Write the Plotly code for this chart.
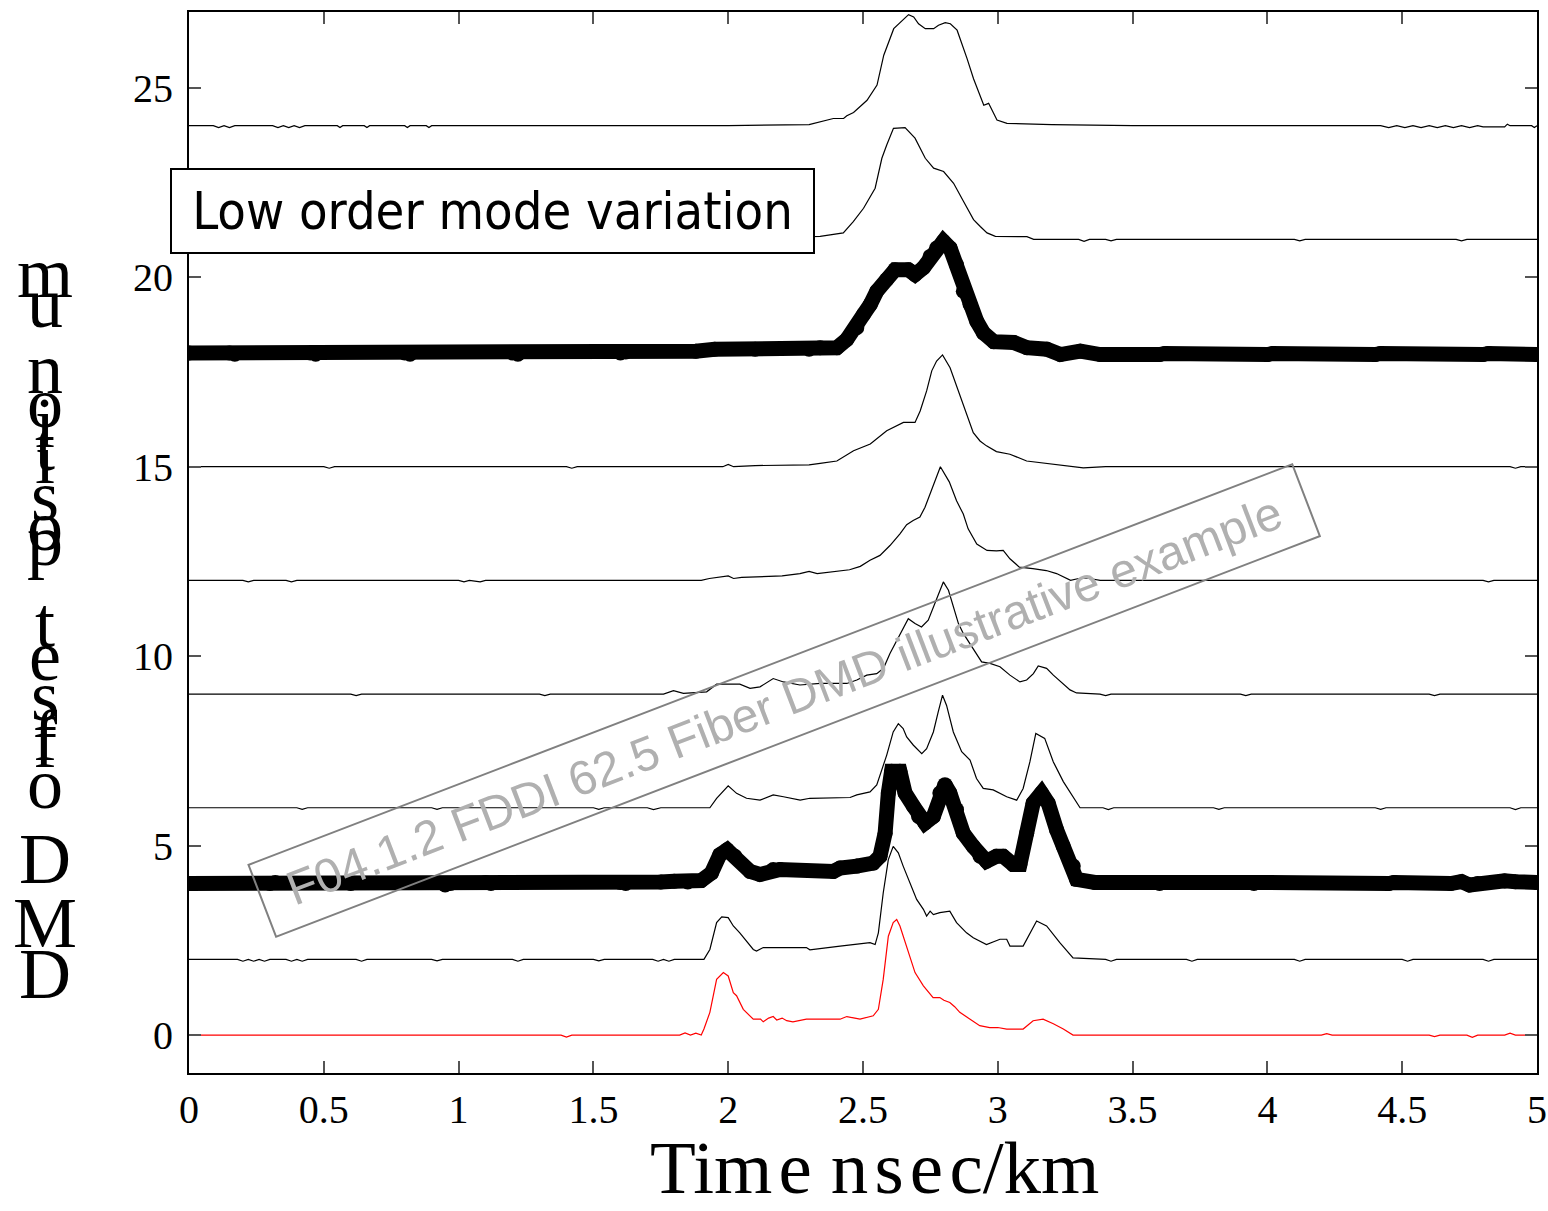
import plotly.graph_objects as go

# ---------------- data ----------------
red_x = [0, 1.38, 1.40, 1.42, 1.82, 1.84, 1.86, 1.88, 1.90, 1.91, 1.932, 1.957, 1.982, 2.0, 2.019, 2.031, 2.056, 2.093, 2.12, 2.13,
         2.15, 2.167, 2.18, 2.2, 2.217, 2.24, 2.29, 2.415, 2.44, 2.489, 2.538, 2.557, 2.575, 2.594, 2.612, 2.625, 2.637, 2.662, 2.693, 2.724,
         2.749, 2.76, 2.785, 2.80, 2.822, 2.84, 2.859, 2.87, 2.897, 2.933, 2.97, 3.0, 3.033, 3.094, 3.131, 3.168, 3.206, 3.243, 3.279, 4.20,
         4.22, 4.24, 4.60, 4.62, 4.64, 4.74, 4.76, 4.78, 4.88, 4.90, 4.92, 5.0]
red_y = [0, 0, -0.05, 0, 0, 0.06, 0, 0.05, 0, 0.16, 0.60, 1.47, 1.65, 1.56, 1.12, 1.04, 0.68, 0.42, 0.42, 0.35,
         0.45, 0.49, 0.40, 0.45, 0.38, 0.35, 0.42, 0.42, 0.49, 0.42, 0.51, 0.68, 1.47, 2.61, 2.97, 3.05, 2.88, 2.35, 1.65, 1.30,
         1.10, 0.99, 0.99, 0.92, 0.86, 0.75, 0.60, 0.55, 0.42, 0.25, 0.20, 0.20, 0.16, 0.16, 0.38, 0.42, 0.30, 0.16, 0.0, 0,
         0.04, 0, 0, -0.04, 0, 0, -0.06, 0, 0, 0.05, 0, 0]

s2_x = [0, 0.18, 0.20, 0.22, 0.24, 0.26, 0.28, 0.30, 0.36, 0.38, 0.40, 0.42, 0.44, 0.62, 0.64, 0.66, 0.90, 0.92, 0.94, 1.20,
        1.22, 1.24, 1.50, 1.52, 1.54, 1.72, 1.74, 1.76, 1.78, 1.80, 1.91, 1.932, 1.957, 1.976, 2.0, 2.019, 2.043, 2.068, 2.093, 2.105,
        2.13, 2.29, 2.303, 2.415, 2.526, 2.545, 2.557, 2.575, 2.594, 2.612, 2.631, 2.649, 2.674, 2.699, 2.724, 2.736, 2.749, 2.761, 2.785, 2.822,
        2.847, 2.884, 2.909, 2.958, 3.008, 3.033, 3.045, 3.094, 3.144, 3.181, 3.23, 3.279, 3.40, 3.42, 3.44, 3.70, 3.72, 3.74, 4.10, 4.12,
        4.14, 4.50, 4.52, 4.54, 4.80, 4.82, 4.84, 5.0]
s2_y = [2, 2, 1.95, 2, 1.95, 2, 1.95, 2, 2, 1.95, 2, 1.95, 2, 2, 1.95, 2, 2, 1.96, 2, 2,
        1.95, 2, 2, 1.96, 2, 2, 1.95, 2, 1.95, 2, 2.0, 2.26, 2.97, 3.12, 3.10, 2.88, 2.70, 2.48, 2.26, 2.22,
        2.31, 2.31, 2.25, 2.35, 2.44, 2.39, 2.70, 3.75, 4.63, 4.98, 4.81, 4.46, 4.02, 3.58, 3.32, 3.14, 3.27, 3.18, 3.23, 3.27,
        2.97, 2.70, 2.57, 2.39, 2.53, 2.53, 2.35, 2.35, 3.01, 2.88, 2.44, 2.04, 2, 1.95, 2, 2, 1.95, 2, 2, 1.95,
        2, 2, 1.95, 2, 2, 1.95, 2, 2]

s4_x = [0, 0.30, 0.32, 0.60, 0.95, 0.97, 1.10, 1.12, 1.60, 1.62, 1.75, 1.80, 1.85, 1.90, 1.938, 1.969, 1.996, 2.025, 2.081, 2.118,
        2.167, 2.192, 2.39, 2.415, 2.477, 2.538, 2.563, 2.582, 2.594, 2.606, 2.637, 2.656, 2.687, 2.706, 2.730, 2.761, 2.785, 2.804, 2.822, 2.847,
        2.872, 2.909, 2.934, 2.958, 2.995, 3.020, 3.057, 3.082, 3.107, 3.131, 3.162, 3.187, 3.218, 3.243, 3.280, 3.292, 3.36, 3.60, 3.62, 3.95,
        3.97, 4.45, 4.47, 4.68, 4.72, 4.75, 4.78, 4.88, 4.92, 5.0]
s4_y = [4.0, 4.0, 4.03, 4.0, 3.96, 4.0, 4.03, 4.0, 4.03, 4.0, 4.04, 4.06, 4.04, 4.08, 4.28, 4.76, 4.89, 4.72, 4.32, 4.24,
        4.37, 4.37, 4.32, 4.41, 4.46, 4.54, 4.72, 5.33, 6.39, 6.96, 6.96, 6.39, 6.04, 5.77, 5.60, 5.77, 6.39, 6.61, 6.39, 5.95,
        5.33, 4.98, 4.72, 4.59, 4.72, 4.72, 4.50, 4.50, 5.33, 6.12, 6.39, 6.12, 5.42, 4.98, 4.46, 4.11, 4.03, 4.0, 4.03, 4.0,
        4.03, 4.0, 4.03, 4.0, 4.05, 3.96, 4.0, 4.07, 4.05, 4.03]

s6_x = [0, 0.40, 0.42, 0.44, 0.90, 0.92, 0.94, 1.50, 1.52, 1.54, 1.70, 1.723, 1.75, 1.90, 1.932, 1.957, 2.0, 2.031, 2.068, 2.118,
        2.167, 2.205, 2.267, 2.303, 2.452, 2.477, 2.526, 2.551, 2.588, 2.612, 2.631, 2.649, 2.662, 2.687, 2.718, 2.736, 2.761, 2.779, 2.795, 2.810,
        2.835, 2.866, 2.897, 2.921, 2.946, 2.983, 3.033, 3.07, 3.094, 3.119, 3.141, 3.174, 3.206, 3.243, 3.280, 3.305, 3.39, 3.41, 3.43, 3.80,
        3.82, 3.84, 4.40, 4.42, 4.44, 4.90, 4.92, 4.94, 5.0]
s6_y = [6, 6, 5.96, 6, 6, 5.96, 6, 6, 5.96, 6, 6, 5.95, 6, 6.0, 6.0, 6.25, 6.58, 6.38, 6.25, 6.20,
        6.34, 6.29, 6.20, 6.25, 6.27, 6.34, 6.42, 6.60, 7.39, 8.0, 8.22, 8.09, 7.87, 7.65, 7.43, 7.56, 8.0, 8.53, 8.97, 8.70,
        8.0, 7.48, 7.26, 6.77, 6.51, 6.47, 6.29, 6.20, 6.51, 7.21, 7.96, 7.83, 7.21, 6.69, 6.29, 6.0, 6.0, 5.95, 6.0, 6,
        5.96, 6, 6, 5.96, 6, 6, 5.95, 6, 6]

s9_x = [0, 0.60, 0.62, 0.64, 1.30, 1.32, 1.34, 1.76, 1.797, 1.834, 1.92, 1.957, 2.043, 2.081, 2.118, 2.167, 2.205, 2.266, 2.341, 2.44,
        2.477, 2.514, 2.551, 2.576, 2.600, 2.625, 2.650, 2.668, 2.693, 2.717, 2.742, 2.761, 2.780, 2.798, 2.817, 2.835, 2.854, 2.872, 2.897, 2.922,
        2.940, 2.971, 3.008, 3.045, 3.082, 3.107, 3.132, 3.150, 3.181, 3.206, 3.243, 3.268, 3.292, 3.379, 3.40, 3.42, 3.90, 3.92, 3.94, 4.60,
        4.62, 4.64, 5.0]
s9_y = [9, 9, 8.96, 9, 9, 8.96, 9, 9, 9.09, 9.02, 9.06, 9.26, 9.26, 9.15, 9.19, 9.41, 9.32, 9.24, 9.28, 9.28,
        9.37, 9.50, 9.54, 9.68, 10.07, 10.42, 10.73, 10.99, 10.86, 10.77, 10.95, 11.30, 11.65, 11.96, 11.74, 11.30, 10.86, 10.60, 10.33, 10.07,
        9.85, 9.81, 9.72, 9.50, 9.32, 9.37, 9.54, 9.74, 9.68, 9.50, 9.28, 9.11, 9.03, 9.0, 8.96, 9.0, 9, 8.96, 9, 9,
        8.96, 9, 9]

s12_x = [0, 0.20, 0.22, 0.24, 0.36, 0.38, 0.40, 1.00, 1.02, 1.04, 1.08, 1.10, 1.90, 1.93, 2.0, 2.02, 2.05, 2.20, 2.266, 2.30,
         2.33, 2.414, 2.45, 2.49, 2.526, 2.563, 2.60, 2.637, 2.662, 2.686, 2.711, 2.73, 2.76, 2.787, 2.82, 2.847, 2.872, 2.89, 2.922, 2.96,
         2.995, 3.02, 3.045, 3.08, 3.13, 3.18, 3.218, 3.27, 3.30, 3.34, 3.38, 4.80, 4.82, 4.84, 5.0]
s12_y = [12, 12, 11.96, 12, 12, 11.96, 12, 12, 11.96, 12, 11.96, 12, 12.0, 12.05, 12.12, 12.05, 12.08, 12.12, 12.18, 12.24,
         12.18, 12.24, 12.28, 12.37, 12.53, 12.66, 12.92, 13.23, 13.47, 13.58, 13.67, 13.93, 14.5, 15.0, 14.6, 14.1, 13.75, 13.36, 12.96, 12.79,
         12.78, 12.79, 12.57, 12.35, 12.31, 12.26, 12.18, 12.0, 12.05, 12.05, 12.0, 12.0, 11.96, 12.0, 12.0]

s15_x = [0, 0.50, 0.52, 0.54, 1.40, 1.42, 1.44, 1.98, 2.0, 2.02, 2.10, 2.30, 2.341, 2.403, 2.465, 2.527, 2.588, 2.625, 2.65, 2.693,
         2.712, 2.736, 2.755, 2.773, 2.795, 2.823, 2.853, 2.884, 2.909, 2.934, 2.958, 2.995, 3.045, 3.107, 3.181, 3.255, 3.317, 3.40, 4.90, 4.92,
         4.94, 5.0]
s15_y = [15, 15, 14.96, 15, 15, 14.96, 15, 15, 15.06, 15.0, 15.03, 15.05, 15.09, 15.15, 15.42, 15.60, 15.95, 16.08, 16.17, 16.17,
         16.47, 17.0, 17.53, 17.79, 17.95, 17.61, 17.0, 16.39, 15.90, 15.68, 15.55, 15.40, 15.33, 15.15, 15.09, 15.03, 14.97, 15.0, 15.0, 14.96,
         15.0, 15.0]

s18_x = [0, 0.15, 0.17, 0.45, 0.47, 0.80, 0.82, 1.20, 1.22, 1.60, 1.62, 1.88, 1.95, 2.10, 2.30, 2.341, 2.403, 2.44, 2.477, 2.502,
         2.527, 2.551, 2.588, 2.619, 2.668, 2.693, 2.724, 2.749, 2.773, 2.798, 2.823, 2.847, 2.872, 2.897, 2.922, 2.947, 2.985, 3.059, 3.108, 3.182,
         3.232, 3.306, 3.38, 3.60, 3.62, 4.00, 4.02, 4.40, 4.42, 4.80, 4.82, 5.0]
s18_y = [18.0, 18.0, 17.97, 18.0, 17.97, 18.0, 17.97, 18.0, 17.97, 18.0, 18.03, 18.05, 18.10, 18.10, 18.10, 18.14, 18.14, 18.36, 18.67, 19.02,
         19.28, 19.63, 19.94, 20.20, 20.20, 20.07, 20.25, 20.55, 20.77, 20.95, 20.77, 20.33, 19.63, 19.28, 18.84, 18.53, 18.30, 18.28, 18.14, 18.10,
         17.96, 18.05, 17.96, 17.96, 17.99, 17.96, 17.99, 17.96, 17.99, 17.96, 17.99, 17.96]

s21_x = [0, 1.0, 2.0, 2.30, 2.341, 2.378, 2.427, 2.464, 2.502, 2.545, 2.557, 2.57, 2.588, 2.613, 2.656, 2.693, 2.731, 2.762, 2.799, 2.836,
         2.873, 2.91, 2.935, 2.96, 2.991, 3.108, 3.133, 3.30, 3.32, 3.34, 3.40, 3.42, 3.44, 4.10, 4.12, 4.14, 4.70, 4.72, 4.74, 5.0]
s21_y = [21.0, 21.0, 21.03, 21.06, 21.08, 21.12, 21.17, 21.47, 21.82, 22.35, 22.70, 23.14, 23.49, 23.93, 23.95, 23.67, 23.14, 22.88, 22.79, 22.48,
         22.0, 21.52, 21.34, 21.17, 21.08, 21.07, 21.0, 21.0, 20.95, 21.0, 21.0, 20.96, 21.0, 21.0, 20.96, 21.0, 21.0, 20.96, 21.0, 21.0]

s24_x = [0, 0.09, 0.11, 0.13, 0.15, 0.17, 0.31, 0.33, 0.35, 0.37, 0.39, 0.41, 0.43, 0.55, 0.56, 0.57, 0.65, 0.66, 0.67, 0.80,
         0.81, 0.82, 0.88, 0.89, 0.90, 1.50, 2.0, 2.3, 2.341, 2.39, 2.428, 2.44, 2.465, 2.515, 2.552, 2.577, 2.614, 2.645, 2.669, 2.688,
         2.706, 2.731, 2.762, 2.78, 2.805, 2.824, 2.849, 2.886, 2.91, 2.948, 2.966, 2.997, 3.034, 3.2, 3.5, 4.42, 4.45, 4.48, 4.51, 4.54,
         4.57, 4.60, 4.63, 4.66, 4.69, 4.72, 4.75, 4.78, 4.80, 4.88, 4.89, 4.90, 4.98, 4.99, 5.0]
s24_y = [24.0, 24.0, 23.95, 24.0, 23.95, 24.0, 24.0, 23.95, 24.0, 23.95, 24.0, 23.95, 24.0, 24.0, 23.95, 24.0, 24.0, 23.95, 24.0, 24.0,
         23.95, 24.0, 24.0, 23.95, 24.0, 24.0, 24.0, 24.03, 24.10, 24.19, 24.19, 24.26, 24.35, 24.67, 25.07, 25.86, 26.56, 26.78, 26.93, 26.87,
         26.69, 26.56, 26.56, 26.65, 26.72, 26.69, 26.52, 25.77, 25.24, 24.54, 24.59, 24.15, 24.06, 24.03, 24.0, 24.0, 23.95, 24.0, 23.95, 24.0,
         23.95, 24.0, 23.95, 24.0, 23.95, 24.0, 23.95, 24.0, 23.97, 23.97, 24.04, 24.0, 24.0, 23.95, 24.0]

x_ticks = [0, 0.5, 1, 1.5, 2, 2.5, 3, 3.5, 4, 4.5, 5]
x_tick_text = ["0", "0.5", "1", "1.5", "2", "2.5", "3", "3.5", "4", "4.5", "5"]
y_ticks = [0, 5, 10, 15, 20, 25]
y_tick_text = ["0", "5", "10", "15", "20", "25"]

x_title = "Tim\u200ae n\u200as\u200ae\u200ac/km"
y_title = "DMD offset position um"
box_label = "Low order mode variation"
watermark = "F04.1.2 FDDI 62.5 Fiber DMD illustrative example"

# ---------------- figure ----------------
W, H = 1548, 1211
L, R, T, B = 189, 11, 12, 138
plot_h = H - T - B
plot_w = W - L - R

thin = [(s2_x, s2_y), (s6_x, s6_y), (s9_x, s9_y), (s12_x, s12_y), (s15_x, s15_y), (s21_x, s21_y), (s24_x, s24_y)]
thick = [(s4_x, s4_y), (s18_x, s18_y)]

fig = go.Figure()
fig.add_trace(go.Scatter(x=red_x, y=red_y, mode="lines", line=dict(color="#ff0000", width=1.2), showlegend=False))
for xs, ys in thin:
    fig.add_trace(go.Scatter(x=xs, y=ys, mode="lines", line=dict(color="#000000", width=1.2), showlegend=False))
for xs, ys in thick:
    fig.add_trace(go.Scatter(x=xs, y=ys, mode="lines+markers", line=dict(color="#000000", width=15),
                             marker=dict(color="#000000", size=15), showlegend=False))

serif = "Liberation Serif, Times New Roman, serif"

def px_to_paper_y(py):
    return (H - B - py) / plot_h

def px_to_paper_x(px):
    return (px - L) / plot_w

annotations = []
# stacked y-axis title characters (bottom to top)
chars = [c for c in y_title if c != " "]
baselines = [998, 947, 883, 808, 767, 760, 720, 680, 647, 565, 550, 520, 483, 470, 447, 427, 393, 327, 297]
fs_y = 72
for ch, bl in zip(chars, baselines):
    annotations.append(dict(text=ch, xref="paper", yref="paper", x=px_to_paper_x(45),
                            y=px_to_paper_y(bl - 0.3375 * fs_y), xanchor="center", yanchor="middle",
                            showarrow=False, font=dict(family=serif, size=fs_y, color="#000")))

# x-axis title
annotations.append(dict(text=x_title, xref="paper", yref="paper", x=px_to_paper_x(874),
                        y=px_to_paper_y(1211), xanchor="center", yanchor="bottom",
                        showarrow=False, font=dict(family=serif, size=75, color="#000")))

# boxed label
annotations.append(dict(text=box_label, xref="paper", yref="paper", x=px_to_paper_x(170),
                        y=px_to_paper_y(168), xanchor="left", yanchor="top", showarrow=False,
                        font=dict(family="DejaVu Sans Condensed, DejaVu Sans, sans-serif", size=52, color="#000"),
                        bgcolor="#ffffff", bordercolor="#000000", borderwidth=2, borderpad=14,
                        width=613, height=54, align="center"))

# watermark
annotations.append(dict(text=watermark, xref="paper", yref="paper", x=px_to_paper_x(784),
                        y=px_to_paper_y(700), xanchor="center", yanchor="middle", showarrow=False,
                        textangle=-21, font=dict(family="Liberation Sans, Arial, sans-serif", size=48, color="#b0b0b0"),
                        bgcolor="rgba(0,0,0,0)", bordercolor="#808080", borderwidth=2, borderpad=10,
                        width=1096, height=55, align="center"))

axis_common = dict(showline=True, linecolor="#000", linewidth=2, mirror="ticks", ticks="inside",
                   ticklen=12, tickwidth=1.5, tickcolor="#555", showgrid=False, zeroline=False,
                   automargin=False, tickfont=dict(family=serif, size=40, color="#000"))

fig.update_layout(
    width=W, height=H, margin=dict(l=L, r=R, t=T, b=B, autoexpand=False),
    paper_bgcolor="#ffffff", plot_bgcolor="#ffffff",
    xaxis=dict(range=[0, 5], tickvals=x_ticks, ticktext=x_tick_text, ticklabelstandoff=0, **axis_common),
    yaxis=dict(range=[-1, 27], tickvals=y_ticks, ticktext=y_tick_text, ticklabelstandoff=6, **axis_common),
    annotations=annotations,
)

fig.write_html("out.html")
